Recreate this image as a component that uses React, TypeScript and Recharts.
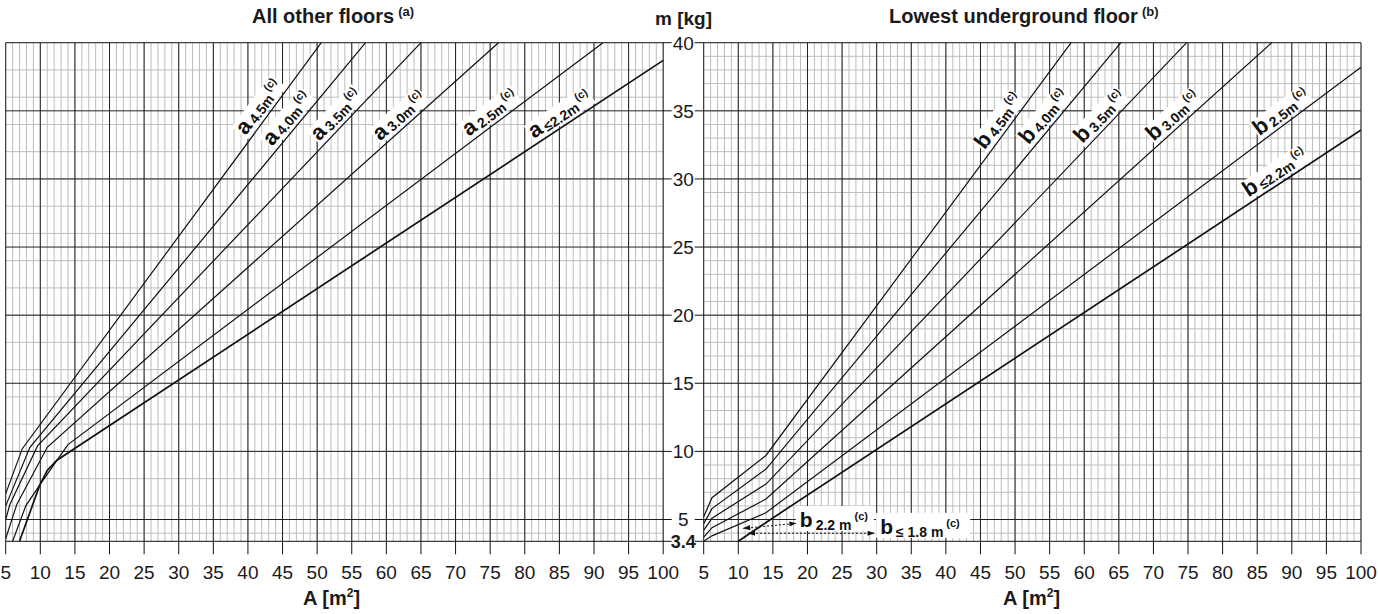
import React from 'react';
import { LineChart, Line, XAxis, YAxis, CartesianGrid, ReferenceDot, ReferenceLine } from 'recharts';

type Pt = [number, number];

const A_TICKS = [5, 10, 15, 20, 25, 30, 35, 40, 45, 50, 55, 60, 65, 70, 75, 80, 85, 90, 95, 100];
const M_TICKS = [3.4, 5, 10, 15, 20, 25, 30, 35, 40];
const M_MAJOR = [5, 10, 15, 20, 25, 30, 35, 40];
const A_MINOR = Array.from({ length: 96 }, (_, i) => 5 + i);
const M_MINOR = Array.from({ length: 37 }, (_, i) => 4 + i);

// All other floors (a): [A m2, m kg]
const OTHER_45: Pt[] = [[5, 6.9], [7.4, 10.2], [50.6, 40]];
const OTHER_40: Pt[] = [[5, 6.0], [8.5, 10.3], [57.0, 40]];
const OTHER_35: Pt[] = [[5, 5.0], [5.6, 6.1], [9.6, 10.4], [65.0, 40]];
const OTHER_30: Pt[] = [[5, 3.6], [6.6, 6.1], [11.0, 10.3], [76.2, 40]];
const OTHER_25: Pt[] = [[6.0, 3.4], [7.9, 6.0], [10.0, 7.6], [12.2, 9.2], [14.0, 10.5], [91.3, 40]];
const OTHER_22: Pt[] = [[7.0, 3.4], [9.9, 7.5], [11.0, 8.6], [12.4, 9.35], [100, 38.7]];

// Lowest underground floor (b)
const BASE_45: Pt[] = [[5, 5.2], [6.2, 6.6], [14, 9.7], [58.1, 40]];
const BASE_40: Pt[] = [[5, 4.7], [6.2, 5.8], [14, 8.7], [65.3, 40]];
const BASE_35: Pt[] = [[5, 4.2], [6.2, 5.1], [14, 7.6], [74.8, 40]];
const BASE_30: Pt[] = [[5, 3.7], [6.2, 4.4], [14, 6.5], [87.1, 40]];
const BASE_25: Pt[] = [[5, 3.4], [6.2, 3.8], [14, 5.5], [100, 38.2]];
const BASE_22: Pt[] = [[10, 3.4], [14.5, 4.95], [100, 33.6]];

type Curve = { sub: string; pts: Pt[]; at: number; heavy?: boolean };

const OTHER: Curve[] = [
    { sub: '4.5m', pts: OTHER_45, at: 43 },
    { sub: '4.0m', pts: OTHER_40, at: 47 },
    { sub: '3.5m', pts: OTHER_35, at: 54 },
    { sub: '3.0m', pts: OTHER_30, at: 63 },
    { sub: '2.5m', pts: OTHER_25, at: 76 },
    { sub: '≤2.2m', pts: OTHER_22, at: 86, heavy: true },
];

const BASE: Curve[] = [
    { sub: '4.5m', pts: BASE_45, at: 49 },
    { sub: '4.0m', pts: BASE_40, at: 55.5 },
    { sub: '3.5m', pts: BASE_35, at: 63.5 },
    { sub: '3.0m', pts: BASE_30, at: 74 },
    { sub: '2.5m', pts: BASE_25, at: 89.5 },
    { sub: '≤2.2m', pts: BASE_22, at: 88.5, heavy: true },
];

const NARROW = "'Liberation Sans Narrow', 'Arial Narrow', 'Liberation Sans', Arial, sans-serif";
const SANS = "'Liberation Sans', Arial, sans-serif";
const INK = '#111';

const PX_A = 657.5 / 95;
const PX_M = 498.6 / 36.6;

const toRows = (pts: Pt[]) => pts.map(([A, m]) => ({ A, m }));

const segAt = (pts: Pt[], a: number) => {
    let i = 0;
    while (i < pts.length - 2 && pts[i + 1][0] < a) i++;
    const [a1, m1] = pts[i];
    const [a2, m2] = pts[i + 1];
    const k = (m2 - m1) / (a2 - a1);
    return { m: m1 + k * (a - a1), k };
};

const CurveTag = ({ cx, cy, angle, letter, sub }: any) => {
    const w = 12 + 3 + sub.length * 7.8 + 2 + 11 + 6;
    return (
        <g transform={`translate(${cx},${cy}) rotate(${-angle})`}>
            <rect x={-w / 2} y={-22} width={w} height={20} fill="#fff" />
            <text x={0} y={-5.5} textAnchor="middle" fontFamily={SANS} fontWeight="bold" fill={INK}>
                <tspan fontSize={22}>{letter}</tspan>
                <tspan fontSize={14} dx={3} dy={1.5}>{sub}</tspan>
                <tspan fontSize={11} dx={2} dy={-9}>(c)</tspan>
            </text>
        </g>
    );
};

const BoxNote = ({ cx, cy, sub }: any) => (
    <g>
        <rect x={cx - 4} y={cy - 21} width={sub.length * 8 + 38} height={25} fill="#fff" />
        <text x={cx} y={cy} fontFamily={SANS} fontWeight="bold" fill={INK}>
            <tspan fontSize={21}>b</tspan>
            <tspan fontSize={14} dx={3} dy={3}>{sub}</tspan>
            <tspan fontSize={11} dx={3} dy={-10}>(c)</tspan>
        </text>
    </g>
);

const arrowHead = (x: number, y: number, a: number) => {
    const L = 7;
    const W = 2.6;
    const bx = x - L * Math.cos(a);
    const by = y - L * Math.sin(a);
    const pts = `${x},${y} ${bx + W * Math.sin(a)},${by - W * Math.cos(a)} ${bx - W * Math.sin(a)},${by + W * Math.cos(a)}`;
    return <polygon points={pts} fill={INK} />;
};

const DashedArrow = (p: any) => {
    const { x1, y1, x2, y2 } = p;
    const a = Math.atan2(y2 - y1, x2 - x1);
    return (
        <g>
            <line x1={x1} y1={y1} x2={x2} y2={y2} stroke={INK} strokeWidth={1} strokeDasharray="2 2" />
            {arrowHead(x2, y2, a)}
            {arrowHead(x1, y1, a + Math.PI)}
        </g>
    );
};

const MTick = (p: any) => {
    const { x, y, payload } = p;
    const low = payload.value === 3.4;
    return (
        <g>
            <line x1={x - 41} y1={y} x2={x - 32} y2={y} stroke={INK} />
            <text
                x={x - 20.5}
                y={y}
                dy="0.36em"
                textAnchor="middle"
                fontFamily={NARROW}
                fontSize={low ? 18 : 19}
                fontWeight={low ? 'bold' : 'normal'}
                fill="#1a1a1a"
            >
                {payload.value}
            </text>
            <line x1={x - 9} y1={y} x2={x} y2={y} stroke={INK} />
        </g>
    );
};

const gridLayers = () => [
    <CartesianGrid key="minor" stroke="#bdbdbd" strokeWidth={1} verticalValues={A_MINOR} horizontalValues={M_MINOR} />,
    <CartesianGrid key="major" stroke="#222" strokeWidth={1} verticalValues={A_TICKS} horizontalValues={M_MAJOR} />,
];

const xAxis = () => (
    <XAxis
        type="number"
        dataKey="A"
        domain={[5, 100]}
        ticks={A_TICKS}
        interval={0}
        allowDataOverflow
        height={40}
        tickSize={13}
        tickMargin={11}
        axisLine={{ stroke: INK }}
        tickLine={{ stroke: INK }}
        tick={{ fill: '#1a1a1a', fontSize: 19, fontFamily: NARROW }}
    />
);

const curveLayers = (curves: Curve[], prefix: string) =>
    curves.map((c) => (
        <Line
            key={prefix + c.sub}
            data={toRows(c.pts)}
            dataKey="m"
            type="linear"
            stroke={INK}
            strokeWidth={c.heavy ? 1.7 : 1.2}
            dot={false}
            activeDot={false}
            isAnimationActive={false}
        />
    ));

const tagLayers = (curves: Curve[], letter: string) =>
    curves.map((c) => {
        const { m, k } = segAt(c.pts, c.at);
        const angle = (Math.atan((k * PX_M) / PX_A) * 180) / Math.PI;
        return (
            <ReferenceDot
                key={'tag' + letter + c.sub}
                x={c.at}
                y={m}
                r={0}
                ifOverflow="visible"
                shape={(p: any) => <CurveTag cx={p.cx} cy={p.cy} angle={angle} letter={letter} sub={c.sub} />}
            />
        );
    });

const MARGIN_TOP = 42.7;
const MARGIN_BOTTOM = 32.7;

export default function App() {
    return (
        <div style={{ position: 'absolute', left: 0, top: 0, width: 1378, height: 614, background: '#fff', overflow: 'hidden' }}>
            <div style={{ position: 'absolute', left: 0, top: 0 }}>
                <LineChart width={690} height={614} margin={{ top: MARGIN_TOP, right: 26.8, left: 5.7, bottom: MARGIN_BOTTOM }}>
                    {gridLayers()}
                    {xAxis()}
                    <YAxis type="number" domain={[3.4, 40]} hide allowDataOverflow />
                    {curveLayers(OTHER, 'a')}
                    {tagLayers(OTHER, 'a')}
                </LineChart>
            </div>
            <div style={{ position: 'absolute', left: 640, top: 0 }}>
                <LineChart width={738} height={614} margin={{ top: MARGIN_TOP, right: 17, left: 0, bottom: MARGIN_BOTTOM }}>
                    {gridLayers()}
                    {xAxis()}
                    <YAxis
                        type="number"
                        domain={[3.4, 40]}
                        ticks={M_TICKS}
                        interval={0}
                        allowDataOverflow
                        width={63.7}
                        tickSize={0}
                        tickMargin={0}
                        axisLine={false}
                        tickLine={false}
                        tick={MTick}
                    />
                    {curveLayers(BASE, 'b')}
                    {tagLayers(BASE, 'b')}
                    <ReferenceDot x={18.9} y={4.45} r={0} ifOverflow="visible" shape={(p: any) => <BoxNote cx={p.cx} cy={p.cy} sub="2.2 m" />} />
                    <ReferenceDot x={30.5} y={3.95} r={0} ifOverflow="visible" shape={(p: any) => <BoxNote cx={p.cx} cy={p.cy} sub="≤ 1.8 m" />} />
                    <ReferenceLine segment={[{ x: 10.7, y: 4.35 }, { x: 18.4, y: 4.72 }]} ifOverflow="visible" shape={DashedArrow} />
                    <ReferenceLine segment={[{ x: 11.4, y: 3.99 }, { x: 29.7, y: 3.99 }]} ifOverflow="visible" shape={DashedArrow} />
                </LineChart>
            </div>
            <svg width={1378} height={614} style={{ position: 'absolute', left: 0, top: 0, pointerEvents: 'none' }}>
                <text x={252} y={23} fontFamily={SANS} fontWeight="bold" fontSize={20} fill="#1a1a1a">
                    All other floors
                    <tspan fontSize={13} dx={4} dy={-7}>(a)</tspan>
                </text>
                <text x={889} y={23} fontFamily={SANS} fontWeight="bold" fontSize={20} fill="#1a1a1a">
                    Lowest underground floor
                    <tspan fontSize={13} dx={4} dy={-7}>(b)</tspan>
                </text>
                <text x={683.5} y={25} textAnchor="middle" fontFamily={SANS} fontWeight="bold" fontSize={19} fill="#1a1a1a">
                    m [kg]
                </text>
                <text x={303} y={605} fontFamily={SANS} fontWeight="bold" fontSize={20} fill="#1a1a1a">
                    A [m
                    <tspan fontSize={12} dy={-8}>2</tspan>
                    <tspan dy={8}>]</tspan>
                </text>
                <text x={1003} y={605} fontFamily={SANS} fontWeight="bold" fontSize={20} fill="#1a1a1a">
                    A [m
                    <tspan fontSize={12} dy={-8}>2</tspan>
                    <tspan dy={8}>]</tspan>
                </text>
            </svg>
        </div>
    );
}
